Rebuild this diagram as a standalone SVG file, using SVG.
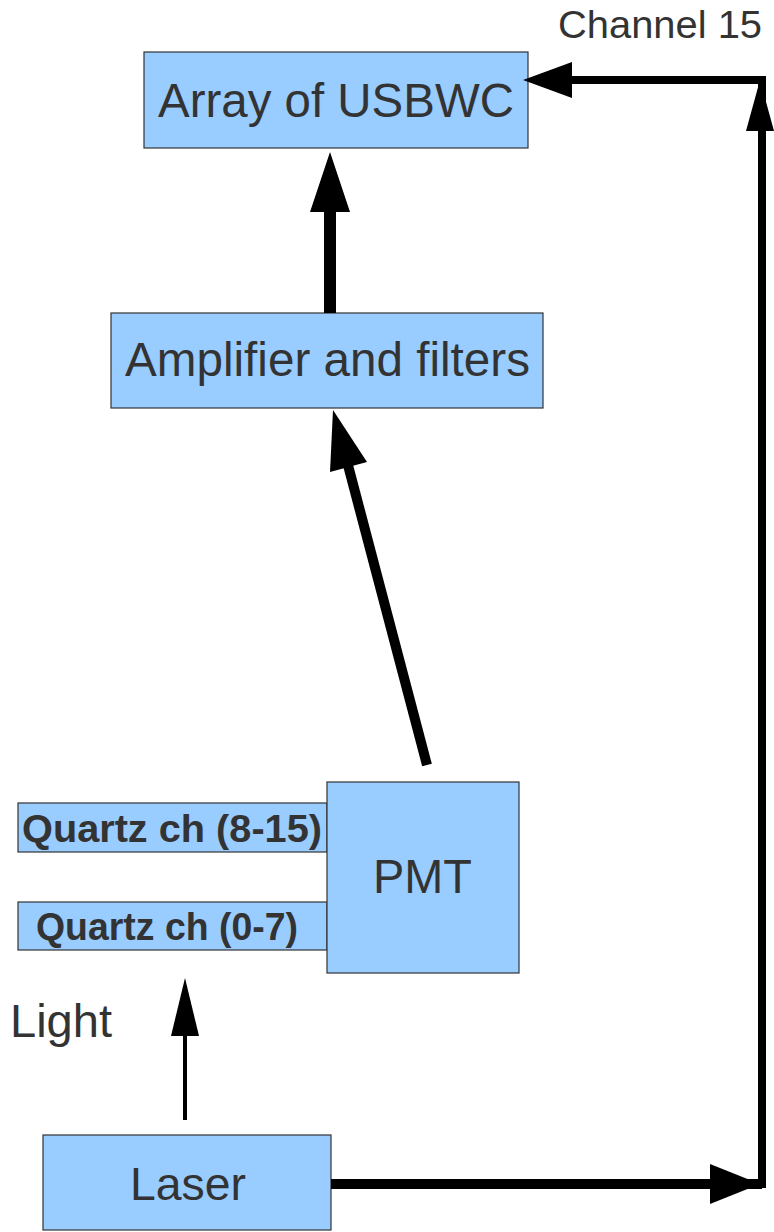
<svg xmlns="http://www.w3.org/2000/svg" width="774" height="1232" viewBox="0 0 774 1232">
<style>
.box{fill:#99ccff;stroke:#333333;stroke-width:1.2}
.lbl{font-family:"Liberation Sans",Arial,sans-serif;fill:#333333;text-anchor:middle}
.bold{font-weight:bold}
.ln{stroke:#000;fill:none;stroke-linecap:butt}
.hd{fill:#000;stroke:none}
</style>
<rect width="774" height="1232" fill="#ffffff"/>
<g id="array">
<rect class="box" x="144" y="52" width="384" height="96"/>
<text class="lbl" x="336" y="117" font-size="48" textLength="356" lengthAdjust="spacingAndGlyphs">Array of USBWC</text>
</g>
<g id="amplifier">
<rect class="box" x="111" y="313" width="432" height="95"/>
<text class="lbl" x="327.5" y="376" font-size="48" textLength="405" lengthAdjust="spacingAndGlyphs">Amplifier and filters</text>
</g>
<g id="quartz-8-15">
<rect class="box" x="18" y="803" width="309" height="49"/>
<text class="lbl bold" x="172" y="842" font-size="39" textLength="300" lengthAdjust="spacingAndGlyphs">Quartz ch (8-15)</text>
</g>
<g id="quartz-0-7">
<rect class="box" x="18" y="902" width="309" height="48"/>
<text class="lbl bold" x="167" y="940" font-size="38" textLength="262" lengthAdjust="spacingAndGlyphs">Quartz ch (0-7)</text>
</g>
<g id="pmt">
<rect class="box" x="327" y="782" width="192" height="191"/>
<text class="lbl" x="422.5" y="893" font-size="48" textLength="99" lengthAdjust="spacingAndGlyphs">PMT</text>
</g>
<g id="laser">
<rect class="box" x="43" y="1135" width="288" height="95"/>
<text class="lbl" x="188" y="1200" font-size="47" textLength="116" lengthAdjust="spacingAndGlyphs">Laser</text>
</g>
<g id="light-label">
<text class="lbl" x="61" y="1037" font-size="47" textLength="102" lengthAdjust="spacingAndGlyphs">Light</text>
</g>
<g id="channel-label">
<text class="lbl" x="660" y="38" font-size="38" textLength="204" lengthAdjust="spacingAndGlyphs">Channel 15</text>
</g>
<g id="connectors">
<line class="ln" x1="330" y1="313" x2="330" y2="205" stroke-width="12"/>
<polygon class="hd" points="330,152 350,212 310,212"/>
<line class="ln" x1="427" y1="765" x2="344" y2="450" stroke-width="10"/>
<polygon class="hd" points="333,410 367,462 330,472"/>
<line class="ln" x1="185" y1="1120" x2="185" y2="1025" stroke-width="4"/>
<polygon class="hd" points="185,978 199,1036 171,1036"/>
<polyline class="ln" points="331,1184 762,1184" stroke-width="10"/>
<polygon class="hd" points="760,1184 710,1164 710,1204"/>
<polyline class="ln" points="762,1188 762,80 570,80" stroke-width="8"/>
<polygon class="hd" points="760,80 774,131 746,131"/>
<polygon class="hd" points="523,80 572,62 572,98"/>
</g>
</svg>
